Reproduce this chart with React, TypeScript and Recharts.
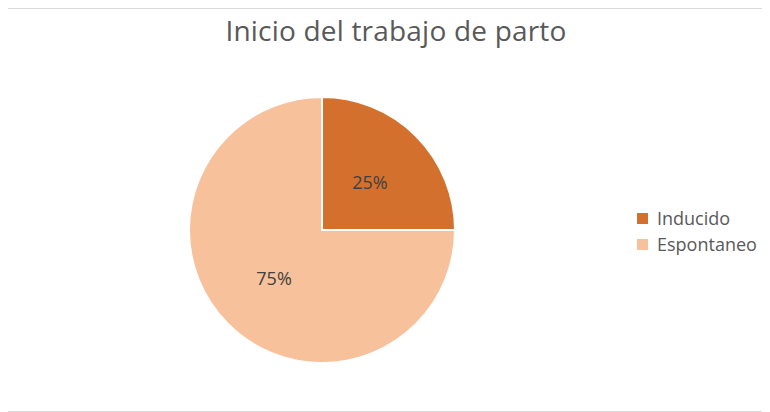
import { Pie, PieChart, Cell } from "recharts";

// Inicio del trabajo de parto
const categories = ["Inducido", "Espontaneo"];
const values = [25, 75];
const colors = ["#D3702E", "#F6C19B"];

const data = categories.map((name, i) => ({ name, value: values[i] }));

const RAD = Math.PI / 180;
const FONT = "'Open Sans', sans-serif";

function renderLabel(props: any) {
  const { cx, cy, midAngle, outerRadius, percent } = props;
  const r = outerRadius * 0.51;
  const x = cx + r * Math.cos(-midAngle * RAD);
  const y = cy + r * Math.sin(-midAngle * RAD);
  return (
    <text
      x={x}
      y={y}
      fill="#404040"
      fontSize={18}
      fontFamily={FONT}
      textAnchor="middle"
      dominantBaseline="central"
    >
      {`${Math.round(percent * 100)}%`}
    </text>
  );
}

export default function App() {
  return (
    <div
      style={{
        position: "relative",
        width: 768,
        height: 402,
        marginLeft: -3,
        border: "1px solid #D9D9D9",
        background: "#fff",
        fontFamily: FONT,
      }}
    >
      <div
        style={{
          position: "absolute",
          top: 2,
          left: 0,
          width: "100%",
          textAlign: "center",
          fontSize: 28,
          lineHeight: "38px",
          letterSpacing: 0.2,
          color: "#595959",
          paddingLeft: 12,
          boxSizing: "border-box",
        }}
      >
        Inicio del trabajo de parto
      </div>
      <PieChart width={766} height={400}>
        <Pie
          data={data}
          dataKey="value"
          nameKey="name"
          cx={311}
          cy={216}
          outerRadius={133}
          startAngle={90}
          endAngle={-270}
          stroke="#fff"
          strokeWidth={2}
          label={renderLabel}
          labelLine={false}
          isAnimationActive={false}
        >
          {data.map((d, i) => (
            <Cell key={d.name} fill={colors[i]} />
          ))}
        </Pie>
      </PieChart>
      <div style={{ position: "absolute", left: 631, top: 196 }}>
        {data.map((d, i) => (
          <div
            key={d.name}
            style={{ display: "flex", alignItems: "center", height: 26, fontSize: 18, color: "#595959" }}
          >
            <span style={{ width: 11, height: 11, background: colors[i], marginRight: 9, flexShrink: 0 }} />
            {d.name}
          </div>
        ))}
      </div>
    </div>
  );
}
